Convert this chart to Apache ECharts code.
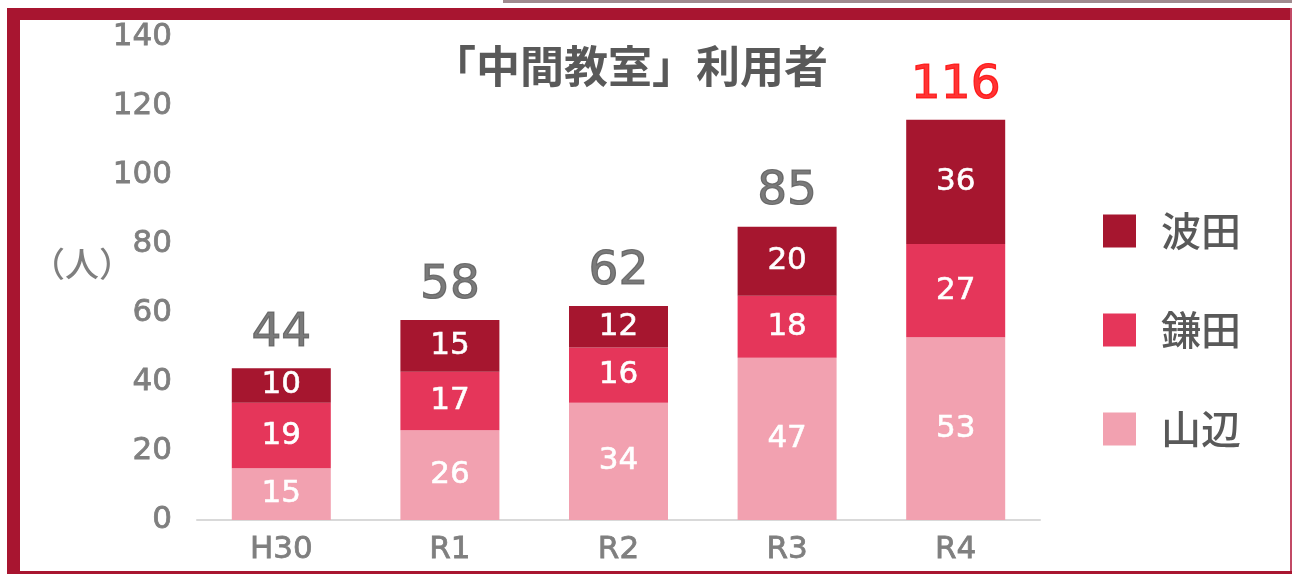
<!DOCTYPE html>
<html>
<head>
<meta charset="utf-8">
<script src="https://cdn.jsdelivr.net/npm/echarts@6/dist/echarts.min.js"></script>
<style>
    html, body { margin: 0; padding: 0; background: #fff; }
    #chart { width: 1292px; height: 574px; }
</style>
</head>
<body>
<div id="chart"></div>
<script>
    // 年度
    const years = ['H30', 'R1', 'R2', 'R3', 'R4']
    // 利用者数（人）
    const yamabe = [15, 26, 34, 47, 53]
    const kamata = [19, 17, 16, 18, 27]
    const hata = [10, 15, 12, 20, 36]
    const yTicks = [0, 20, 40, 60, 80, 100, 120, 140]

    const totals = years.map((y, i) => yamabe[i] + kamata[i] + hata[i])

    const numFont = '"DejaVu Sans", "Noto Sans CJK JP", sans-serif'
    const jpFont = '"Noto Sans CJK JP", sans-serif'
    const frame = '#A81530'
    const axisGray = '#7F7F7F'

    let container = echarts.init(document.getElementById('chart'))

    let innerLabel = {
        show: true,
        position: 'inside',
        color: '#fff',
        fontSize: 31,
        fontFamily: numFont,
        textBorderColor: '#fff',
        textBorderWidth: 0.6
    }

    let option = {
        animation: false,
        title: {
            text: '「中間教室」利用者',
            left: 427,
            top: 39,
            textStyle: {
                color: '#595959',
                fontSize: 44,
                fontWeight: 'bold',
                fontFamily: jpFont
            }
        },
        legend: {
            orient: 'vertical',
            left: 1098,
            top: 206,
            itemWidth: 33,
            itemHeight: 33,
            itemGap: 59,
            icon: 'rect',
            data: ['波田', '鎌田', '山辺'],
            textStyle: {
                color: '#595959',
                fontSize: 40,
                lineHeight: 40,
                fontWeight: 500,
                fontFamily: jpFont,
                padding: [0, 0, 0, 20]
            }
        },
        grid: {
            left: 197,
            right: 252,
            top: 37,
            bottom: 54
        },
        xAxis: {
            type: 'category',
            data: years,
            axisLine: { lineStyle: { color: '#D9D9D9', width: 2 } },
            axisTick: { show: false },
            axisLabel: {
                color: axisGray,
                fontSize: 31,
                margin: 14,
                fontFamily: numFont,
                textBorderColor: axisGray,
                textBorderWidth: 0.8
            }
        },
        yAxis: {
            type: 'value',
            min: yTicks[0],
            max: yTicks[yTicks.length - 1],
            interval: yTicks[1] - yTicks[0],
            splitLine: { show: false },
            axisLine: { show: false },
            axisTick: { show: false },
            axisLabel: {
                color: axisGray,
                fontSize: 31,
                margin: 25,
                fontFamily: numFont,
                textBorderColor: axisGray,
                textBorderWidth: 0.8
            }
        },
        graphic: [
            { type: 'rect', shape: { x: 503, y: 0, width: 789, height: 3 }, style: { fill: '#A08A8E' } },
            { type: 'rect', shape: { x: 7, y: 8, width: 1285, height: 12 }, style: { fill: frame } },
            { type: 'rect', shape: { x: 7, y: 8, width: 13, height: 566 }, style: { fill: frame } },
            { type: 'rect', shape: { x: 1290, y: 8, width: 2, height: 566 }, style: { fill: '#C24A66' } },
            { type: 'rect', shape: { x: 7, y: 571, width: 1285, height: 3 }, style: { fill: frame } },
            {
                type: 'text',
                left: 31,
                top: 247,
                style: {
                    text: '（人）',
                    fill: axisGray,
                    fontSize: 34,
                    fontWeight: 500,
                    fontFamily: jpFont
                }
            }
        ],
        series: [
            {
                name: '山辺',
                type: 'bar',
                stack: 'total',
                barWidth: 99,
                data: yamabe,
                itemStyle: { color: '#F2A1B0' },
                label: innerLabel
            },
            {
                name: '鎌田',
                type: 'bar',
                stack: 'total',
                data: kamata,
                itemStyle: { color: '#E5365A' },
                label: innerLabel
            },
            {
                name: '波田',
                type: 'bar',
                stack: 'total',
                data: hata,
                itemStyle: { color: '#A6162F' },
                label: innerLabel
            },
            {
                name: '合計',
                type: 'scatter',
                symbolSize: 0,
                silent: true,
                data: totals.map((v, i) => {
                    let c = i === totals.length - 1 ? '#FF0000' : '#595959'
                    return { value: v, label: { color: c, textBorderColor: c } }
                }),
                label: {
                    show: true,
                    position: 'top',
                    distance: 11,
                    fontSize: 47,
                    fontFamily: numFont,
                    textBorderWidth: 1.2
                }
            }
        ]
    }

    container.setOption(option)
</script>
</body>
</html>
